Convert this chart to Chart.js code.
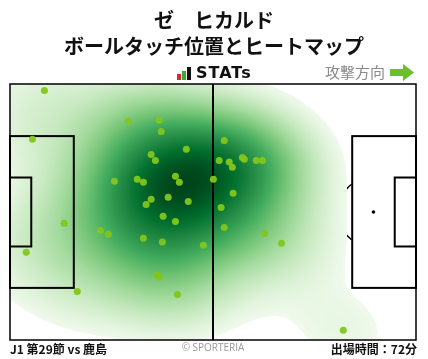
<!DOCTYPE html>
<html>
<head>
<meta charset="utf-8">
<script src="https://cdn.jsdelivr.net/npm/chart.js@4.4.0/dist/chart.umd.min.js"></script>
<style>
  body { margin: 0; background: #fff; }
  #wrap { width: 428px; height: 359px; }
</style>
</head>
<body>
<div id="wrap"><canvas id="pitch" width="428" height="359"></canvas></div>
<script>
// touch positions in metres (x: own goal -> attacking goal, y: bottom -> top)
const touchX = [8.9, 30.6, 38.6, 39.1, 5.8, 45.6, 55.4, 36.5, 37.6, 54.1,
                56.7, 57.5, 60.1, 60.6, 63.7, 65.3, 32.9, 34.5, 42.8, 43.8,
                27.0, 52.6, 40.9, 46.1, 36.5, 35.2, 57.7, 54.6, 39.6, 42.8,
                14.0, 23.4, 25.4, 34.5, 39.4, 50.0, 55.4, 65.8, 70.2, 4.2,
                38.1, 38.6, 17.4, 43.3, 86.2];
const touchY = [66.3, 58.1, 58.4, 55.4, 53.3, 50.7, 53.0, 49.3, 47.7, 47.7,
                47.3, 45.9, 48.5, 48.0, 47.7, 47.7, 42.7, 41.9, 43.5, 41.9,
                42.2, 42.7, 37.9, 36.8, 37.4, 36.0, 39.0, 35.2, 32.9, 31.5,
                31.0, 29.1, 28.1, 27.0, 26.0, 25.2, 29.9, 28.3, 25.7, 23.3,
                17.3, 16.7, 12.9, 12.1, 2.6];

const pitchLength = 105;
const pitchWidth = 68;

const titleLines = ['ゼ　ヒカルド', 'ボールタッチ位置とヒートマップ'];
const matchLabel = 'J1 第29節 vs 鹿島';
const minutesLabel = '出場時間：72分';

// matplotlib "Greens"
const greens = [
    [247, 252, 245], [229, 245, 224], [199, 233, 192], [161, 217, 155],
    [116, 196, 118], [65, 171, 93], [35, 139, 69], [0, 109, 44], [0, 68, 27]
];

function greenAt(v) {
    v = Math.max(0, Math.min(1, v)) * (greens.length - 1);
    let i = Math.floor(v);
    if (i >= greens.length - 1) return greens[greens.length - 1];
    let f = v - i;
    let a = greens[i], b = greens[i + 1];
    return [a[0] + (b[0] - a[0]) * f, a[1] + (b[1] - a[1]) * f, a[2] + (b[2] - a[2]) * f];
}

// gaussian kde with scott bandwidth (full covariance)
function makeKde(xs, ys, adjust) {
    const n = xs.length;
    const mx = xs.reduce((a, b) => a + b, 0) / n;
    const my = ys.reduce((a, b) => a + b, 0) / n;
    let sxx = 0, syy = 0, sxy = 0;
    for (let i = 0; i < n; i++) {
        sxx += (xs[i] - mx) ** 2;
        syy += (ys[i] - my) ** 2;
        sxy += (xs[i] - mx) * (ys[i] - my);
    }
    const f2 = Math.pow(n, -1 / 3) * adjust * adjust;
    const a = sxx / (n - 1) * f2, d = syy / (n - 1) * f2, b = sxy / (n - 1) * f2;
    const det = a * d - b * b;
    const ia = d / det, id = a / det, ib = -b / det;
    const fn = (x, y) => {
        let s = 0;
        for (let i = 0; i < n; i++) {
            const dx = x - xs[i], dy = y - ys[i];
            s += Math.exp(-0.5 * (ia * dx * dx + 2 * ib * dx * dy + id * dy * dy));
        }
        return s;
    };
    fn.sdx = Math.sqrt(a);
    fn.sdy = Math.sqrt(d);
    return fn;
}

const pitchPlugin = {
    id: 'pitchPlugin',
    beforeDatasetsDraw(chart) {
        const ctx = chart.ctx;
        const xs = chart.scales.x, ys = chart.scales.y;
        const area = chart.chartArea;
        const X = v => xs.getPixelForValue(v);
        const Y = v => ys.getPixelForValue(v);
        const mx = Math.abs(X(1) - X(0));

        // markings that end up under the heatmap
        ctx.save();
        ctx.strokeStyle = '#000';
        ctx.lineWidth = 1.5;
        ctx.beginPath();
        ctx.arc(X(pitchLength / 2), Y(pitchWidth / 2), 9.15 * mx, 0, Math.PI * 2);
        ctx.stroke();
        ctx.beginPath();
        ctx.arc(X(11), Y(pitchWidth / 2), 9.15 * mx, -0.9, 0.9);
        ctx.stroke();
        ctx.beginPath();
        ctx.arc(X(pitchLength - 11), Y(pitchWidth / 2), 9.15 * mx, Math.PI - 0.9, Math.PI + 0.9);
        ctx.stroke();
        ctx.fillStyle = '#000';
        [11, pitchLength - 11].forEach(sx => {
            ctx.beginPath();
            ctx.arc(X(sx), Y(pitchWidth / 2), 1.8, 0, Math.PI * 2);
            ctx.fill();
        });
        ctx.restore();

        // heatmap: density shaded by proportion of mass over an extended grid
        const kde = makeKde(touchX, touchY, 1.3);
        const gx0 = Math.min(...touchX) - 3 * kde.sdx, gx1 = Math.max(...touchX) + 3 * kde.sdx;
        const gy0 = Math.min(...touchY) - 3 * kde.sdy, gy1 = Math.max(...touchY) + 3 * kde.sdy;
        const G = 200;
        const grid = new Float64Array(G * G);
        for (let r = 0; r < G; r++) {
            for (let c = 0; c < G; c++) {
                grid[r * G + c] = kde(gx0 + (gx1 - gx0) * c / (G - 1), gy0 + (gy1 - gy0) * r / (G - 1));
            }
        }
        grid.sort();
        const cum = new Float64Array(G * G);
        let acc = 0;
        for (let k = 0; k < G * G; k++) { acc += grid[k]; cum[k] = acc; }
        for (let k = 0; k < G * G; k++) cum[k] /= acc;
        const propOf = v => {
            let lo = 0, hi = G * G - 1;
            while (lo < hi) {
                const m = (lo + hi) >> 1;
                if (grid[m] < v) lo = m + 1; else hi = m;
            }
            return cum[lo];
        };

        const w = Math.round(area.right - area.left);
        const h = Math.round(area.bottom - area.top);
        const off = document.createElement('canvas');
        off.width = w; off.height = h;
        const octx = off.getContext('2d');
        const img = octx.createImageData(w, h);
        for (let r = 0; r < h; r++) {
            const vy = ys.getValueForPixel(area.top + r + 0.5);
            for (let c = 0; c < w; c++) {
                const vx = xs.getValueForPixel(area.left + c + 0.5);
                const p = propOf(kde(vx, vy));
                if (p < 0.05) continue;
                const t = (p - 0.05) / 0.95;
                const col = greenAt(0.04 + Math.pow(t, 0.75) * 0.96);
                const k = (r * w + c) * 4;
                img.data[k] = col[0];
                img.data[k + 1] = col[1];
                img.data[k + 2] = col[2];
                img.data[k + 3] = 255;
            }
        }
        octx.putImageData(img, 0, 0);
        ctx.drawImage(off, area.left, area.top);

        // pitch lines
        ctx.save();
        ctx.strokeStyle = '#000';
        ctx.lineWidth = 2;
        const box = (x0, x1, y0, y1) => {
            ctx.strokeRect(X(x0), Y(y1), X(x1) - X(x0), Y(y0) - Y(y1));
        };
        const pb = 40.32 / 2, gb = 18.32 / 2, mid = pitchWidth / 2;
        box(0, 16.5, mid - pb, mid + pb);
        box(0, 5.5, mid - gb, mid + gb);
        box(pitchLength - 16.5, pitchLength, mid - pb, mid + pb);
        box(pitchLength - 5.5, pitchLength, mid - gb, mid + gb);
        ctx.beginPath();
        ctx.moveTo(X(pitchLength / 2), Y(0));
        ctx.lineTo(X(pitchLength / 2), Y(pitchWidth));
        ctx.stroke();
        ctx.lineWidth = 1.5;
        ctx.strokeRect(X(0), Y(pitchWidth), X(pitchLength) - X(0), Y(0) - Y(pitchWidth));
        ctx.restore();
    },
    afterDraw(chart) {
        const ctx = chart.ctx;
        ctx.save();
        ctx.fillStyle = '#111';
        ctx.textAlign = 'center';
        ctx.textBaseline = 'middle';
        ctx.font = 'bold 20px "Noto Sans CJK JP"';
        ctx.fillText(titleLines[0], 214, 20);
        ctx.fillText(titleLines[1], 214, 46);

        // STATs logo
        ctx.fillStyle = '#e0262a';
        ctx.fillRect(177, 74, 4, 6);
        ctx.fillStyle = '#3aa935';
        ctx.fillRect(182, 71, 4, 9);
        ctx.fillStyle = '#111';
        ctx.fillRect(187, 67, 4, 13);
        ctx.textAlign = 'left';
        ctx.font = 'bold 16px "DejaVu Sans"';
        ctx.letterSpacing = '1px';
        ctx.fillText('STATs', 196, 73.5);
        ctx.letterSpacing = '0px';

        ctx.fillStyle = '#8a8a8a';
        ctx.font = '15px "Noto Sans CJK JP"';
        ctx.fillText('攻撃方向', 325, 72);
        ctx.fillStyle = '#6cbf2a';
        ctx.fillRect(390, 69, 14, 7);
        ctx.beginPath();
        ctx.moveTo(403, 64);
        ctx.lineTo(414, 72.5);
        ctx.lineTo(403, 81);
        ctx.closePath();
        ctx.fill();

        // footer
        ctx.fillStyle = '#111';
        ctx.font = 'bold 12px "Noto Sans CJK JP"';
        ctx.fillText(matchLabel, 10, 349);
        ctx.textAlign = 'right';
        ctx.fillText(minutesLabel, 417, 349);
        ctx.textAlign = 'center';
        ctx.fillStyle = '#999';
        ctx.font = '10px "Open Sans"';
        ctx.fillText('© SPORTERIA', 213, 348);
        ctx.restore();
    }
};

const points = touchX.map((x, i) => ({ x: x, y: touchY[i] }));

new Chart(document.getElementById('pitch'), {
    type: 'scatter',
    data: {
        datasets: [{
            data: points,
            backgroundColor: 'rgba(130, 198, 28, 0.95)',
            borderWidth: 0,
            pointRadius: 3.5,
            pointHoverRadius: 3.5
        }]
    },
    options: {
        responsive: false,
        animation: false,
        layout: { padding: { left: 10, right: 12, top: 84, bottom: 19 } },
        scales: {
            x: { type: 'linear', min: 0, max: pitchLength, display: false },
            y: { type: 'linear', min: 0, max: pitchWidth, display: false }
        },
        plugins: {
            legend: { display: false },
            tooltip: { enabled: false }
        }
    },
    plugins: [pitchPlugin]
});
</script>
</body>
</html>
